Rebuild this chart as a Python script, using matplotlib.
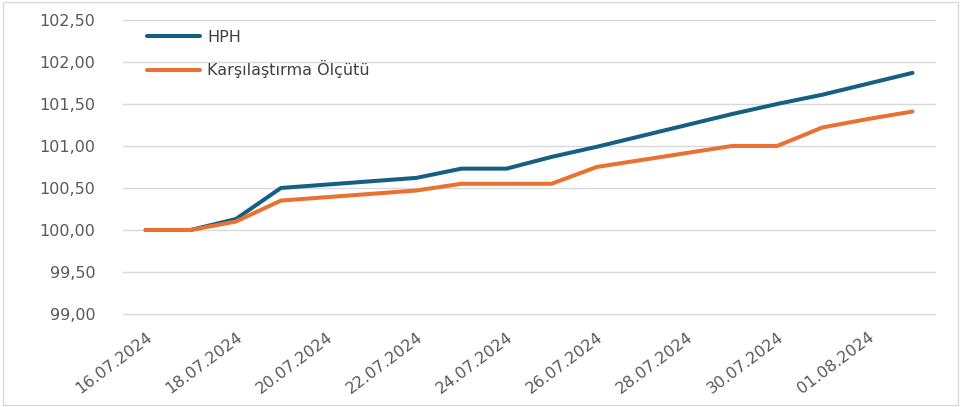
import matplotlib
matplotlib.use("Agg")
import matplotlib.pyplot as plt
import matplotlib.dates as mdates
from matplotlib.patches import Rectangle
import pandas as pd

plt.rcParams['font.family'] = ['DejaVu Sans']

dates = ["16.07.2024", "17.07.2024", "18.07.2024", "19.07.2024", "22.07.2024",
         "23.07.2024", "24.07.2024", "25.07.2024", "26.07.2024", "29.07.2024",
         "30.07.2024", "31.07.2024", "01.08.2024", "02.08.2024"]
hph = [100.00, 100.00, 100.13, 100.50, 100.62, 100.73, 100.73, 100.87, 100.99,
       101.38, 101.50, 101.61, 101.74, 101.87]
benchmark = [100.00, 100.00, 100.10, 100.35, 100.47, 100.55, 100.55, 100.55, 100.75,
             101.00, 101.00, 101.22, 101.32, 101.41]
labels = ["HPH", "Karşılaştırma Ölçütü"]

x = pd.to_datetime(dates, format="%d.%m.%Y")

fig = plt.figure(figsize=(9.65, 4.07), dpi=100)
ax = fig.add_axes([0.1275, 0.2285, 0.8415, 0.7225])

ax.plot(x, hph, color="#156082", lw=2.9, solid_capstyle="round", solid_joinstyle="round", label=labels[0])
ax.plot(x, benchmark, color="#E97132", lw=2.9, solid_capstyle="round", solid_joinstyle="round", label=labels[1])

ax.set_ylim(99.0, 102.5)
ax.set_yticks([99.0 + 0.5 * i for i in range(8)])
ax.yaxis.set_major_formatter(plt.FuncFormatter(lambda v, p: f"{v:.2f}".replace(".", ",")))
ax.set_xlim(pd.Timestamp("2024-07-15 12:00"), pd.Timestamp("2024-08-02 12:00"))
ax.set_xticks(pd.date_range("2024-07-16", "2024-08-01", freq="2D"))
ax.xaxis.set_major_formatter(mdates.DateFormatter("%d.%m.%Y"))

ax.grid(axis="y", color="#d9d9d9", lw=1)
for gl in ax.yaxis.get_gridlines():
    gl.set_clip_on(False)
ax.set_axisbelow(True)
for s in ax.spines.values():
    s.set_visible(False)
ax.tick_params(length=0, labelsize=11.5, labelcolor="#595959")
ax.tick_params(axis="y", pad=20)
for t in ax.get_xticklabels():
    t.set_rotation(37)
    t.set_ha("right")
    t.set_va("top")
    t.set_rotation_mode("anchor")
ax.tick_params(axis="x", pad=11)

leg = ax.legend(loc="upper left", bbox_to_anchor=(0.012, 1.015), frameon=False,
                fontsize=11.5, handlelength=3.3, handletextpad=0.45, labelspacing=0.95)
for t in leg.get_texts():
    t.set_color("#404040")

fig.add_artist(Rectangle((0.003, 0.004), 0.99, 0.99, transform=fig.transFigure,
                         fill=False, edgecolor="#d9d9d9", lw=1))

fig.savefig("out.png", dpi=100)
